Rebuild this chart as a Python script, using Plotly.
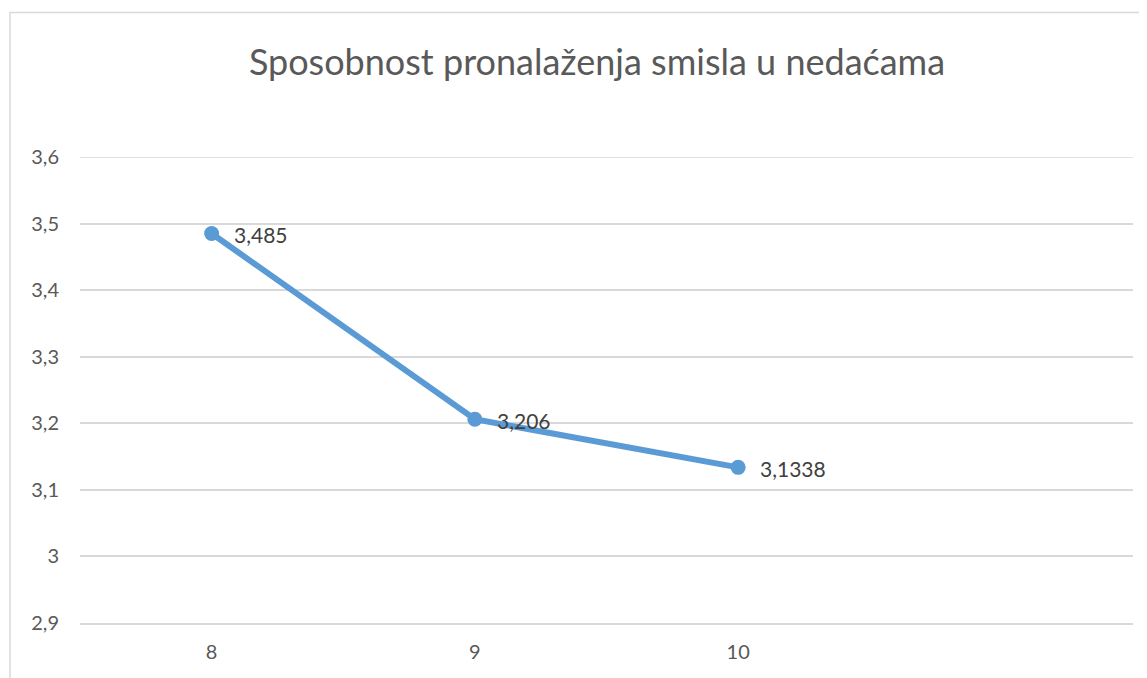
import plotly.graph_objects as go

categories = [8, 9, 10]
values = [3.485, 3.206, 3.1338]
y_ticks = [2.9, 3.0, 3.1, 3.2, 3.3, 3.4, 3.5, 3.6]
title = "Sposobnost pronalaženja smisla u nedaćama"

labels = [str(v).replace(".", ",") for v in values]

OFF = 8  # page body margin
W, H = 1147 - OFF, 678 - OFF
L, R, T, B = 80 - OFF, 14, 157 - OFF, 55
pw, ph = W - L - R, H - T - B

font_fam = "Lato, Noto Sans, sans-serif"

fig = go.Figure()
fig.add_trace(go.Scatter(
    x=categories, y=values, mode="lines+markers",
    line=dict(color="#5b9bd5", width=6),
    marker=dict(color="#5b9bd5", size=15),
    showlegend=False, cliponaxis=False,
))

annotations = [
    dict(x=c, y=v, text=t, xref="x", yref="y", showarrow=False,
         xanchor="left", yanchor="middle", xshift=20, yshift=-1,
         font=dict(family=font_fam, size=21, color="#404040"))
    for c, v, t in zip(categories, values, labels)
]

fig.update_layout(
    width=W, height=H,
    margin=dict(l=L, r=R, t=T, b=B),
    paper_bgcolor="white", plot_bgcolor="white",
    separators=", ",
    title=dict(text=title, x=(597 - OFF) / W, xanchor="center",
               y=1 - (62 - OFF) / H, yanchor="middle",
               font=dict(family=font_fam, size=36, color="#595959")),
    xaxis=dict(range=[7.5, 11.5], tickvals=categories, ticktext=[str(c) for c in categories],
               showgrid=False, zeroline=False, showline=True, linecolor="#d9d9d9", linewidth=1.5,
               ticks="", ticklabelstandoff=10, automargin=False,
               tickfont=dict(family=font_fam, size=20, color="#595959")),
    yaxis=dict(range=[y_ticks[0], y_ticks[-1]], tickvals=y_ticks,
               showgrid=True, gridcolor="#d9d9d9", gridwidth=1.5, zeroline=False,
               showline=False, ticks="", ticklabelstandoff=20, automargin=False,
               tickfont=dict(family=font_fam, size=20, color="#595959")),
    annotations=annotations,
    shapes=[
        dict(type="line", xref="paper", yref="y", x0=0, x1=1,
             y0=y_ticks[-1], y1=y_ticks[-1],
             line=dict(color="#d9d9d9", width=1.5), layer="below"),
        dict(type="rect", xref="paper", yref="paper",
             x0=(10 - 80) / pw, x1=(1160 - 80) / pw,
             y0=-(B + 20) / ph, y1=(623 - 12.5) / ph,
             line=dict(color="#d9d9d9", width=1.5), fillcolor="rgba(0,0,0,0)",
             layer="below"),
    ],
)

fig.write_html("out.html")
